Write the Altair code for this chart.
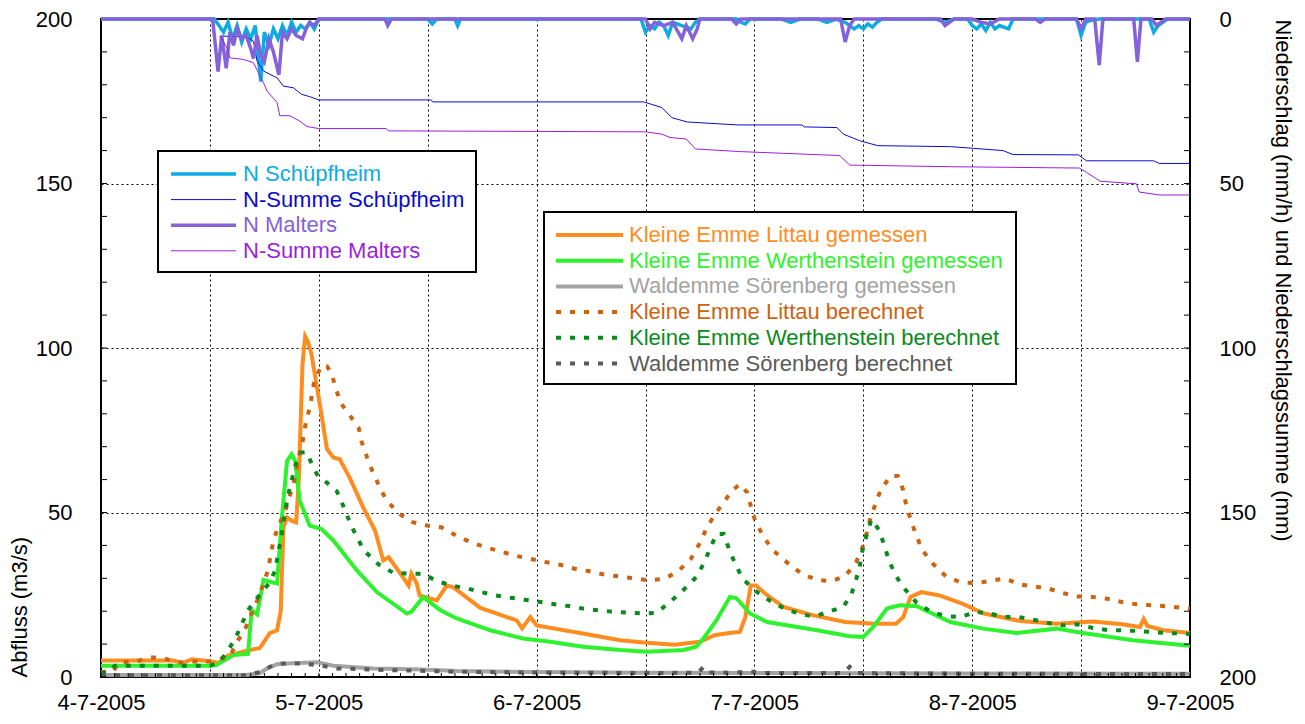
import altair as alt
import pandas as pd

# ------------------------------------------------------------------ data
# time axis: hours after 4-7-2005 00:00 ; discharge in m3/s ; precipitation in mm
littau_gem = [(0,5.0),(4,5.0),(8,5.0),(9,4.2),(10,5.4),(12,4.8),(13,4.3),(14,6.5),(15,7.2),(16,8.0),
    (17.5,8.8),(18.6,13.3),(19.4,14.2),(19.8,20.0),(20.1,45.5),(20.5,48.5),(21.0,47.5),(21.5,47.0),
    (21.8,60.0),(22.2,95.0),(22.5,103.5),(22.8,102.0),(23.2,98.0),(24.1,83.0),(24.9,69.3),(25.6,66.7),
    (26.3,66.2),(27.4,60.6),(28.9,51.5),(30.2,44.5),(31.1,35.4),(31.7,36.4),(33.0,31.4),(33.9,27.8),
    (34.2,31.4),(34.8,28.4),(35.1,24.8),(37.0,23.3),(38.1,27.8),(38.8,27.3),(41.8,21.0),(45.8,17.2),
    (46.4,14.8),(47.3,18.2),(48.0,15.7),(53.1,13.2),(57.2,11.2),(60.1,10.4),(63.2,9.8),(66.0,10.7),
    (67.6,12.7),(69.2,13.4),(70.4,13.7),(71.0,18.2),(71.6,27.8),(72.2,27.8),(73.2,25.3),(75.2,21.3),
    (78.4,18.8),(82.0,16.7),(85.2,16.2),(87.6,16.2),(88.4,18.2),(89.2,24.3),(90.4,25.8),(92.4,24.8),
    (94.9,22.3),(97.3,19.3),(101.3,17.0),(105.3,16.2),(109.3,16.9),(112.5,16.0),(114.5,15.2),
    (114.9,17.6),(115.3,15.5),(117.1,14.2),(120,13.4)]

werth_gem = [(0,3.4),(12,3.4),(12.7,3.6),(14.6,6.7),(16.2,7.0),(16.6,20.3),(17.2,19.0),(17.9,29.5),
    (19.4,28.4),(19.9,47.5),(20.5,65.7),(21.0,67.7),(21.4,65.7),(21.9,53.6),(23.0,46.0),(24.3,45.0),
    (25.6,41.5),(28.2,32.4),(30.4,25.8),(33.7,19.3),(34.2,19.8),(35.5,24.3),(37.4,20.3),(39.2,17.8),
    (42.9,14.2),(46.5,11.7),(49.5,10.7),(53.1,9.2),(57.2,8.2),(60.1,7.7),(64.2,8.2),(65.6,9.2),
    (66.4,11.8),(67.8,17.2),(69.3,24.3),(70.0,24.0),(71.5,19.3),(73.4,16.7),(78.9,14.2),(82.5,12.4),
    (84.0,12.2),(85.1,15.2),(86.6,20.8),(88.0,21.8),(89.9,21.5),(93.6,16.7),(97.2,14.7),(100.9,13.4),
    (105.3,14.7),(108.2,13.4),(113.7,11.2),(120,9.5)]

wald_gem = [(0,0.6),(16,0.6),(17.5,1.2),(18.3,2.6),(19.4,3.9),(21,4.2),(23.8,4.5),(25.6,3.4),
    (30,2.6),(35.5,2.3),(39.2,1.8),(48,1.5),(60,1.3),(72,1.2),(96,1.1),(120,1.0)]

littau_ber = [(0,1.5),(1.3,1.5),(2,4.5),(4,4.8),(5.5,6.0),(7,5.6),(8.5,4.4),(10,4.7),(12,4.7),
    (14.2,6.2),(15.0,10.7),(15.9,14.7),(16.6,19.3),(17.3,23.8),(17.9,28.4),(18.4,32.4),(19.0,41.5),
    (19.5,45.5),(20.3,50.5),(21.3,59.6),(21.7,65.7),(22.3,72.7),(22.6,77.8),(23.0,81.8),(23.5,89.9),
    (24.3,94.7),(24.9,94.4),(25.4,92.4),(25.8,88.4),(26.4,83.3),(27.4,79.6),(28.4,75.7),(28.7,71.7),
    (29.3,66.9),(29.9,62.6),(30.6,58.4),(31.4,53.9),(32.8,49.7),(34.4,47.0),(36.0,46.0),(37.5,45.5),
    (39.2,42.9),(40.8,40.9),(42.4,39.4),(44.0,38.2),(45.6,36.9),(47.3,35.9),(48.9,35.0),(50.6,34.1),
    (52.2,32.9),(53.7,32.2),(55.3,31.2),(57.0,30.6),(58.7,30.0),(60.3,29.4),(62.0,29.8),(63.5,31.9),
    (65.0,35.9),(65.9,40.3),(66.7,45.0),(67.6,49.3),(68.6,53.0),(69.5,56.6),(70.4,58.6),(71.2,56.1),
    (71.6,52.0),(72.1,47.3),(73.0,42.7),(74.0,38.6),(75.7,34.6),(77.2,31.4),(78.8,29.6),(80.4,29.1),
    (82.0,30.6),(83.2,34.9),(83.8,38.4),(84.4,44.0),(84.8,48.5),(85.4,53.0),(85.9,56.8),(87.0,61.1),
    (87.8,61.1),(88.4,56.8),(88.7,52.6),(89.2,48.0),(89.8,43.3),(90.5,38.6),(91.6,34.6),(93.1,30.6),
    (94.7,28.8),(96.5,28.5),(98.1,29.3),(99.6,29.9),(101.3,28.1),(102.9,27.5),(104.5,26.8),(106.0,25.5),
    (107.6,24.5),(109.3,24.3),(110.9,23.8),(112.5,22.8),(114.1,22.1),(115.9,21.8),(117.3,21.5),(120,20.8)]

werth_ber = [(0,1.2),(1.0,1.5),(1.5,3.4),(12,3.4),(13.0,4.5),(13.8,7.2),(14.8,11.7),(15.5,16.0),
    (16.2,20.3),(17.3,24.3),(18.5,28.4),(19.2,32.4),(19.5,37.4),(19.8,41.5),(20.3,50.3),(20.6,55.1),
    (21.0,59.6),(21.4,64.1),(22.0,68.2),(22.6,68.4),(23.8,61.6),(25.0,58.8),(26.0,56.4),(26.7,52.0),
    (27.4,47.2),(28.1,43.0),(29.0,38.4),(30.6,34.2),(32.2,31.7),(33.9,31.4),(35.4,31.4),(37.1,29.1),
    (38.6,27.8),(40.2,27.0),(41.9,25.8),(43.5,24.8),(45.1,24.1),(46.7,23.5),(48.4,22.8),(50.0,22.1),
    (51.7,21.5),(53.1,20.8),(54.8,20.3),(56.5,19.8),(58.1,19.6),(59.8,19.3),(61.2,19.5),(62.7,22.8),
    (64.2,26.5),(65.6,30.4),(66.4,34.4),(67.1,38.9),(67.8,43.4),(68.6,43.5),(69.2,38.9),(69.9,34.3),
    (70.7,29.9),(72.1,26.2),(73.6,23.4),(75.3,20.8),(76.9,19.3),(78.6,18.3),(80.2,19.9),(81.8,21.3),
    (82.7,25.3),(83.2,29.6),(83.6,33.6),(83.9,38.4),(84.4,43.5),(84.9,47.9),(85.7,44.8),(86.3,40.2),
    (86.8,35.6),(87.5,31.2),(88.4,27.3),(89.9,22.5),(91.5,19.8),(93.1,18.5),(94.7,18.2),(96.4,19.8),
    (97.9,19.3),(99.6,18.2),(101.2,18.2),(102.8,17.4),(104.4,16.4),(106.0,15.7),(107.6,16.0),
    (109.3,14.9),(110.9,14.3),(112.5,14.2),(114.1,14.0),(115.7,13.7),(117.3,13.4),(120,13.1)]

wald_ber = [(0,0.5),(16,0.5),(17.5,1.5),(19.0,3.6),(20,4.1),(22,4.1),(24,3.6),(26,2.6),(31.8,2.1),
    (39.2,1.6),(46,1.4),(60,1.2),(65.8,1.3),(66.4,3.1),(67,1.4),(70,1.3),(71.5,1.8),(72.5,1.2),
    (81.8,1.2),(82.5,3.1),(83.2,1.2),(96,1.0),(120,0.9)]

n_schuepfheim = [(0,0),(12.5,0),(13,2),(13.5,4),(14,1),(14.5,6),(15,2),(15.5,7),(16,3),(16.5,6),
    (17,2),(17.6,19),(18,4),(18.5,8),(19,3),(19.5,6),(20,2),(20.5,5),(21,1),(21.5,4),(22,2),(22.5,3),
    (23,1),(23.5,3),(24,0),(36,0),(36.5,1.5),(37,0),(39,0),(39.3,2),(39.6,0),(59.5,0),(60,4),(60.5,2),
    (61,3),(61.5,1),(62,2),(62.5,5),(63,1),(64,2),(65,3),(65.5,1),(66,0),(70,0),(70.5,1),(71,1.5),
    (71.5,0),(75,0),(76,1),(77,0),(79,0),(80,1),(81,0),(82,1),(83,3),(83.5,2),(84,3),(84.5,1.5),
    (85,2.5),(85.5,1),(86,0),(92,0),(93,1),(94,0),(95.5,0),(96,2),(96.5,3),(97,1.5),(97.5,3.5),
    (98,1),(98.5,3),(99,2),(100,3),(100.5,0),(107.5,0),(108,5),(108.5,1),(109,0.5),(110,0),
    (115.5,0),(116,4),(116.5,2),(117,1),(117.5,0),(120,0)]

n_malters = [(0,0),(12.3,0),(12.9,16),(13.3,5),(13.8,15),(14.2,4),(14.6,8),(15,3),(15.5,6),(16,5),
    (16.5,9),(16.8,12),(17.2,5),(17.6,11),(18,13),(18.5,6),(19,10),(19.6,17),(20,4),(20.5,6),(21,3),
    (21.5,5),(22.2,6),(22.6,3),(23,1),(23.5,2),(24,0),(31.3,0),(31.6,2),(32,0),(60,0),(60.5,3),(61,1),
    (62,2),(63,1),(64,6),(64.5,2),(65.2,6),(65.7,3),(66,0),(69.5,0),(70,1.5),(70.5,0),(81.5,0),(82,7),
    (82.5,2),(83,0),(92.5,0),(93,2),(93.5,1),(94,0),(96,0),(97,1),(98,1.5),(99,0),(103,0),(103.5,1),
    (104,0),(107.5,0),(108,3),(108.5,0),(109.5,0),(110,14),(110.4,0),(113.8,0),(114.2,13),(114.6,0),
    (115.8,0),(116.3,2),(116.8,1),(117.3,0),(120,0)]

sum_schuepfheim = [(13.2,5.2),(16.1,5.4),(16.8,6.8),(17.2,12.8),(17.9,15.8),(19.4,17.9),(20.1,20.4),
    (21.2,20.9),(22.1,22.9),(23.0,23.6),(24.0,24.6),(36.3,24.6),(36.6,25.2),(59.8,25.2),(61.8,26.9),
    (62.9,30.0),(64.6,31.3),(70.2,32.2),(77.2,32.2),(77.5,32.8),(81.1,33.0),(81.8,35.0),(83.6,37.0),
    (85.6,38.5),(93.6,38.8),(96.1,39.3),(99.4,40.0),(100.5,41.2),(107.7,41.3),(108.6,43.1),
    (116.0,43.1),(116.6,43.9),(120,43.9)]

sum_malters = [(13.1,5.2),(13.9,8.8),(14.2,11.8),(15.7,12.3),(16.8,13.3),(17.9,19.4),(18.3,21.9),
    (19.4,25.4),(19.7,29.4),(20.8,29.4),(21.9,31.0),(22.7,32.7),(24.0,33.3),(31.4,33.3),(31.7,34.0),
    (60.0,34.3),(61.8,35.0),(62.7,36.0),(64.5,36.5),(65.5,39.5),(70.4,40.3),(81.4,41.5),(82.5,44.4),
    (93.6,44.9),(107.8,45.3),(108.6,46.6),(110.1,49.3),(114.1,50.1),(114.4,52.6),(116.7,53.5),(120,53.5)]

day_labels_start = 4          # 4-7-2005 at hour 0
minor_x_ticks = [i * 1.5 for i in range(81)]
minor_y_ticks = list(range(0, 201, 10))

# ------------------------------------------------------------------ styling
W, H = 1089, 658
X0, Y0 = 101, 19
FONT = "Liberation Sans"
FS = 22
C_LIT_G, C_WER_G, C_WAL_G = "#ff8c1e", "#2ef22e", "#a3a3a3"
C_LIT_B, C_WER_B, C_WAL_B = "#cc6310", "#0a8a1c", "#5a5a5a"
C_NS, C_SS, C_NM, C_SM = "#0aace2", "#0a0ad0", "#8462da", "#9a1fe0"
DOT = [5, 9]


def hx(px):
    return (px - X0) / W * 120


def vy(py):
    return (Y0 + H - py) / H * 200


x_axis = alt.Axis(values=list(range(0, 121, 12)),
                  labelExpr=f"datum.value % 24 == 0 ? ({day_labels_start} + datum.value / 24) + '-7-2005' : ''",
                  grid=True, gridColor="black", gridDash=[2, 3], gridWidth=1,
                  ticks=False, domain=False, labelFontSize=FS, labelPadding=15,
                  labelFlush=False, labelOverlap=False, title=None)
y_axis = alt.Axis(values=[0, 50, 100, 150, 200], grid=True, gridColor="black", gridDash=[2, 3],
                  gridWidth=1, ticks=False, domain=False, labelFontSize=FS, labelPadding=29,
                  title="Abfluss (m3/s)", titleFontSize=FS, titleFontWeight="normal",
                  titleAnchor="start", titlePadding=4)
yr_axis = alt.Axis(orient="right", values=[0, 50, 100, 150, 200], grid=False, ticks=False,
                   domain=False, labelFontSize=FS, labelPadding=29,
                   title="Niederschlag (mm/h) und Niederschlagssumme (mm)", titleFontSize=FS,
                   titleFontWeight="normal", titleAnchor="start", titlePadding=15)


def X():
    return alt.X("h:Q", scale=alt.Scale(domain=[0, 120], nice=False, zero=False), axis=x_axis)


def Y():
    return alt.Y("v:Q", scale=alt.Scale(domain=[0, 200], nice=False), axis=y_axis)


def YR():
    return alt.Y("p:Q", scale=alt.Scale(domain=[0, 200], nice=False, reverse=True), axis=yr_axis)


def frame(pairs, col):
    return pd.DataFrame(pairs, columns=["h", col])


# ------------------------------------------------------------------ discharge layers
q_series = [
    ("Kleine Emme Littau gemessen", littau_gem, C_LIT_G, None),
    ("Kleine Emme Werthenstein gemessen", werth_gem, C_WER_G, None),
    ("Waldemme Sörenberg gemessen", wald_gem, C_WAL_G, None),
    ("Kleine Emme Littau berechnet", littau_ber, C_LIT_B, DOT),
    ("Kleine Emme Werthenstein berechnet", werth_ber, C_WER_B, DOT),
    ("Waldemme Sörenberg berechnet", wald_ber, C_WAL_B, DOT),
]
left_layers = []
for name, pts, col, dash in q_series:
    kw = dict(color=col, strokeWidth=4, strokeCap="butt")
    if dash:
        kw["strokeDash"] = dash
    left_layers.append(alt.Chart(frame(pts, "v")).mark_line(**kw).encode(x=X(), y=Y()))

# inward ticks
left_layers.append(alt.Chart(pd.DataFrame({"h": minor_x_ticks})).mark_rule(color="black").encode(
    x=X(), y=alt.value(H), y2=alt.value(H - 4)))
left_layers.append(alt.Chart(pd.DataFrame({"v": minor_y_ticks})).mark_rule(color="black").encode(
    y=Y(), x=alt.value(0), x2=alt.value(6)))
left_layers.append(alt.Chart(pd.DataFrame({"v": minor_y_ticks})).mark_rule(color="black").encode(
    y=Y(), x=alt.value(W), x2=alt.value(W - 6)))

# legends (layout in page pixels -> data units)
p_series = [
    ("N Schüpfheim", n_schuepfheim, C_NS, 3.5),
    ("N-Summe Schüpfheim", sum_schuepfheim, C_SS, 1),
    ("N Malters", n_malters, C_NM, 3.5),
    ("N-Summe Malters", sum_malters, C_SM, 1),
]
legend_specs = [
    # box (l, t, r, b), sample x0, x1, text x, first row y, row step, entries
    ((158, 151, 476, 272), 171, 236, 243, 174, 25.6,
     [(n, c, w, None) for n, _, c, w in p_series]),
    ((544, 212, 1016, 384), 556, 623, 629, 235, 25.7,
     [(n, c, 4, d) for n, _, c, d in q_series]),
]
for (l, t, r, b), sx0, sx1, tx, ry0, step, entries in legend_specs:
    box = pd.DataFrame({"h": [hx(l)], "h2": [hx(r)], "v": [vy(t)], "v2": [vy(b)]})
    left_layers.append(alt.Chart(box).mark_rect(fill="white", stroke="black", strokeWidth=2).encode(
        x=X(), x2="h2:Q", y=Y(), y2="v2:Q"))
    for i, (label, col, w, dash) in enumerate(entries):
        ry = ry0 + i * step
        row = pd.DataFrame({"h": [hx(sx0)], "h2": [hx(sx1)], "v": [vy(ry)]})
        kw = dict(color=col, strokeWidth=w, strokeCap="butt")
        if dash:
            kw["strokeDash"] = dash
        left_layers.append(alt.Chart(row).mark_rule(**kw).encode(x=X(), x2="h2:Q", y=Y()))
        txt = pd.DataFrame({"h": [hx(tx)], "v": [vy(ry)], "label": [label]})
        left_layers.append(alt.Chart(txt).mark_text(align="left", baseline="middle", fontSize=FS,
                                                    font=FONT, color=col).encode(
            x=X(), y=Y(), text="label:N"))

left = alt.layer(*left_layers)

# ------------------------------------------------------------------ precipitation layers
right_layers = []
for name, pts, col, w in p_series:
    right_layers.append(alt.Chart(frame(pts, "p")).mark_line(color=col, strokeWidth=w).encode(
        x=X(), y=YR()))
right = alt.layer(*right_layers)

chart = (alt.layer(left, right)
         .resolve_scale(y="independent")
         .properties(width=W, height=H,
                     autosize=alt.AutoSizeParams(type="none"),
                     padding={"left": 93, "top": 11, "right": 107, "bottom": 40})
         .configure(font=FONT)
         .configure_view(stroke="black", strokeWidth=2)
         .configure_axis(labelColor="black", titleColor="black", labelFont=FONT, titleFont=FONT))

chart.save("out.html", embed_options={"renderer": "svg", "actions": False})
